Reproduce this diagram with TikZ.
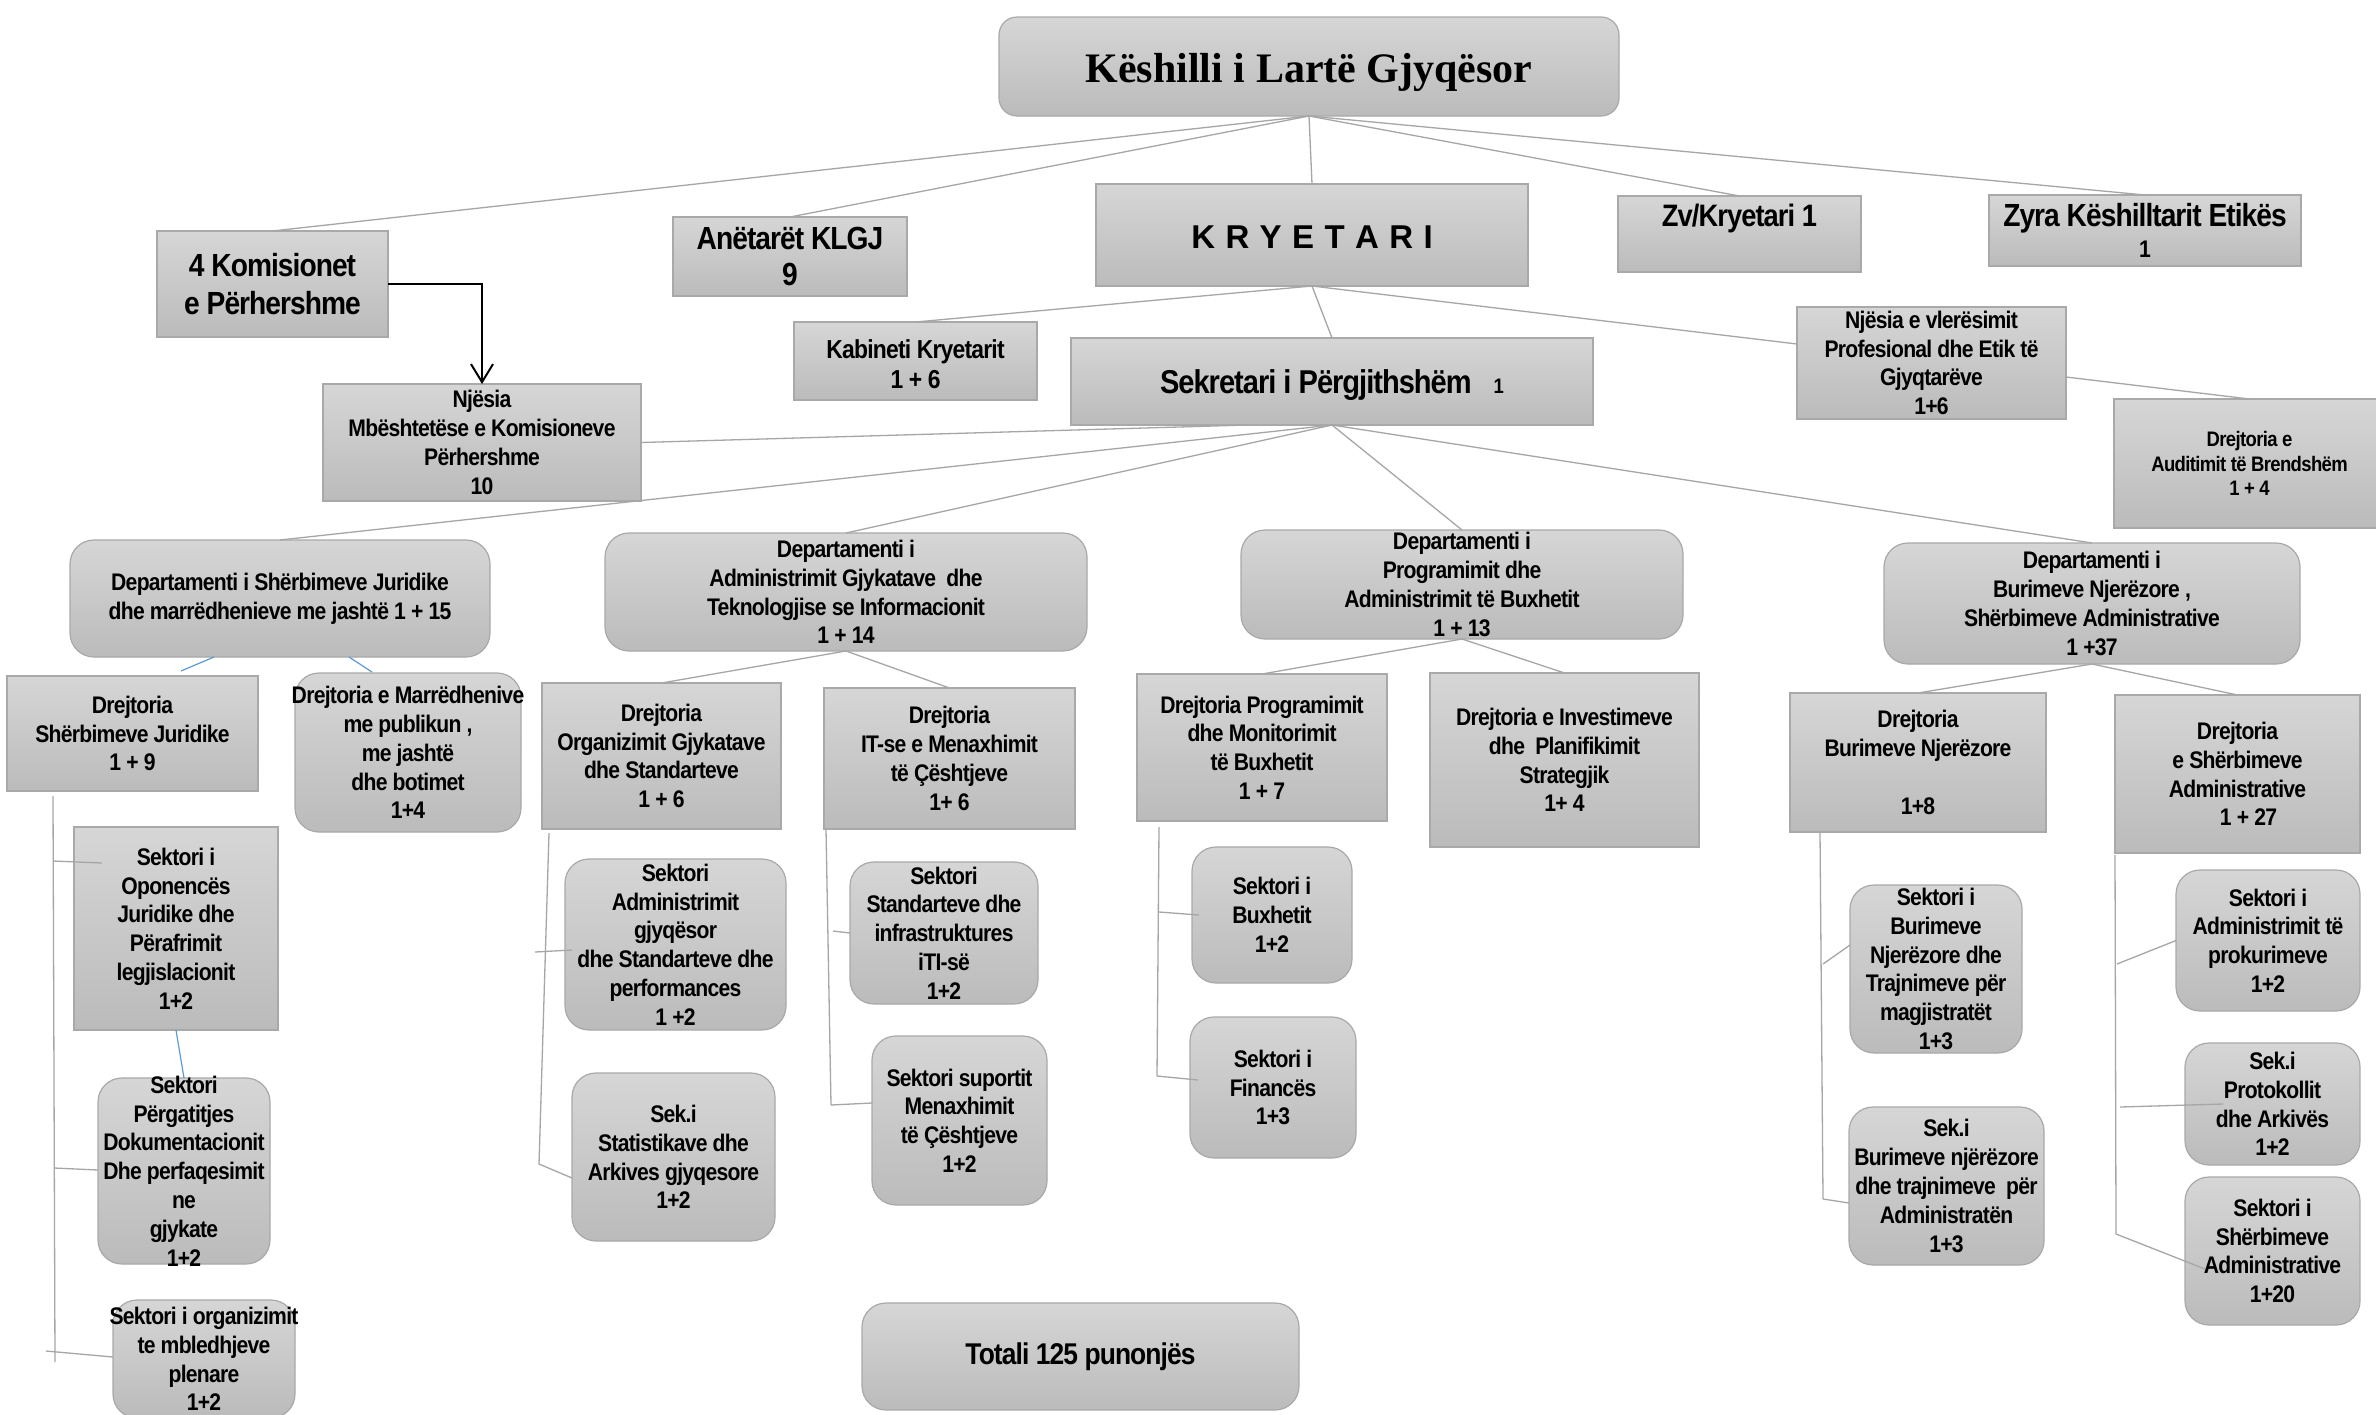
\documentclass[tikz,border=0pt]{standalone}
\usepackage{fontspec}
\newfontfamily\cf{Liberation Sans}[FakeStretch=0.88,LetterSpace=-3]
\newfontfamily\kf{Liberation Sans}
\newfontfamily\tf{Liberation Serif}
\usetikzlibrary{arrows.meta}
\definecolor{boxtop}{HTML}{D6D6D6}
\definecolor{boxbot}{HTML}{BBBBBB}
\definecolor{bordergray}{HTML}{A9A9A9}
\definecolor{linegray}{HTML}{A6A6A6}
\definecolor{lineblue}{HTML}{5B9BD5}
% #1 box style, #2 text style, #3 name, #4 x1, #5 y1, #6 x2, #7 y2, #8 text
\newcommand\ob[8]{%
  \node[#1, minimum width={(#6-#4)*0.5pt}, minimum height={(#7-#5)*0.5pt}] (#3) at ({(#4+#6)/2},{(#5+#7)/2}) {};
  \node[#2] (#3-txt) at (#3.center) {#8};}
\newcommand\kg{\hspace{5.2pt}}
\begin{document}
\begin{tikzpicture}[x=0.5pt,y=-0.5pt,
  box/.style={draw=bordergray, line width=0.6pt, top color=boxtop, bottom color=boxbot, inner sep=0pt, outer sep=0pt},
  rbox/.style={box, rounded corners=12pt},
  tbox/.style={box, rounded corners=9pt},
  t/.style={align=center, inner sep=0pt, font=\cf\bfseries\fontsize{12pt}{14.4pt}\selectfont},
  tkom/.style={t, font=\cf\bfseries\fontsize{16pt}{19pt}\selectfont},
  tan/.style={t, font=\cf\bfseries\fontsize{16pt}{18.3pt}\selectfont},
  tzv/.style={t, yshift=8pt, font=\cf\bfseries\fontsize{15.5pt}{18pt}\selectfont},
  tzy/.style={t, font=\cf\bfseries\fontsize{16pt}{15.5pt}\selectfont},
  tkab/.style={t, yshift=-1.5pt, font=\cf\bfseries\fontsize{13pt}{15pt}\selectfont},
  tsek/.style={t, yshift=-2pt, font=\cf\bfseries\fontsize{16.5pt}{19pt}\selectfont},
  taud/.style={t, font=\cf\bfseries\fontsize{10.5pt}{12.4pt}\selectfont},
  ttot/.style={t, font=\cf\bfseries\fontsize{15pt}{18pt}\selectfont},
  ttitle/.style={t, yshift=-3pt, font=\tf\bfseries\fontsize{21pt}{25pt}\selectfont},
  tkry/.style={t, yshift=-1pt, font=\kf\bfseries\fontsize{16.5pt}{19pt}\selectfont},
  ln/.style={draw=linegray, line width=0.65pt},
  bl/.style={draw=lineblue, line width=0.6pt},
  arr/.style={draw=black, line width=1pt, -{Straight Barb[length=9pt,width=11pt]}}
]
\path[use as bounding box, fill=white] (0,0) rectangle (2376,1414);

% ---- top level
\ob{tbox}{ttitle}{kl}{999}{17}{1619}{116}{Këshilli i Lartë Gjyqësor}
\ob{box}{tkry}{kry}{1096}{184}{1528}{286}{K\kg R\kg Y\kg E\kg T\kg A\kg R\kg I}
\ob{box}{tkom}{kom}{157}{231}{388}{337}{4 Komisionet\\e Përhershme}
\ob{box}{tan}{anet}{673}{217}{907}{296}{Anëtarët KLGJ\\9}
\ob{box}{tkab}{kab}{794}{322}{1037}{400}{Kabineti Kryetarit\\1 + 6}
\ob{box}{t}{njm}{323}{384}{641}{501}{Njësia\\Mbështetëse e Komisioneve\\Përhershme\\10}
\ob{box}{tsek}{sek}{1071}{338}{1593}{425}{Sekretari i Përgjithshëm\hspace{11pt}{\fontsize{10.5pt}{12pt}\selectfont 1}}
\ob{box}{tzv}{zv}{1618}{196}{1861}{272}{Zv/Kryetari 1}
\ob{box}{tzy}{zyra}{1989}{195}{2301}{266}{Zyra Këshilltarit Etikës\\{\fontsize{12pt}{14pt}\selectfont 1}}
\ob{box}{t}{vle}{1797}{307}{2066}{419}{Njësia e vlerësimit\\Profesional dhe Etik të\\Gjyqtarëve\\1+6}
\ob{box}{taud}{aud}{2114}{399}{2385}{528}{Drejtoria e\\Auditimit të Brendshëm\\1 + 4}

% ---- departments
\ob{rbox}{t}{d1}{70}{540}{490}{657}{Departamenti i Shërbimeve Juridike\\dhe marrëdhenieve me jashtë 1 + 15}
\ob{rbox}{t}{d2}{605}{533}{1087}{651}{Departamenti i\\Administrimit Gjykatave\ \ dhe\\Teknologjise se Informacionit\\1 + 14}
\ob{rbox}{t}{d3}{1241}{530}{1683}{639}{Departamenti i\\Programimit dhe\\Administrimit të Buxhetit\\1 + 13}
\ob{rbox}{t}{d4}{1884}{543}{2300}{664}{Departamenti i\\Burimeve Njerëzore ,\\Shërbimeve Administrative\\1 +37}

% ---- directorates
\ob{box}{t}{drj}{7}{676}{258}{791}{Drejtoria\\Shërbimeve Juridike\\1 + 9}
\ob{rbox}{t}{drm}{295}{673}{521}{832}{Drejtoria e Marrëdhenive\\me publikun ,\\me jashtë\\dhe botimet\\1+4}
\ob{box}{t}{dro}{542}{683}{781}{829}{Drejtoria\\Organizimit Gjykatave\\dhe Standarteve\\1 + 6}
\ob{box}{t}{drit}{824}{688}{1075}{829}{Drejtoria\\IT-se e Menaxhimit\\të Çështjeve\\1+ 6}
\ob{box}{t}{drp}{1137}{674}{1387}{821}{Drejtoria Programimit\\dhe Monitorimit\\të Buxhetit\\1 + 7}
\ob{box}{t}{dri}{1430}{673}{1699}{847}{Drejtoria e Investimeve\\dhe\ \ Planifikimit\\Strategjik\\1+ 4}
\ob{box}{t}{drb}{1790}{693}{2046}{832}{Drejtoria\\Burimeve Njerëzore\\[14.4pt]1+8}
\ob{box}{t}{drs}{2115}{695}{2360}{853}{Drejtoria\\e Shërbimeve\\Administrative\\\hspace*{11pt}1 + 27}

% ---- sectors
\ob{box}{t}{opo}{74}{827}{278}{1030}{Sektori i\\Oponencës\\Juridike dhe\\Përafrimit\\legjislacionit\\1+2}
\ob{rbox}{t}{prg}{98}{1078}{270}{1264}{Sektori\\Përgatitjes\\Dokumentacionit\\Dhe perfaqesimit\\ne\\gjykate\\1+2}
\ob{rbox}{t}{org}{113}{1300}{295}{1418}{Sektori i organizimit\\te mbledhjeve\\plenare\\1+2}
\ob{rbox}{t}{adm}{565}{859}{786}{1030}{Sektori\\Administrimit\\gjyqësor\\dhe Standarteve dhe\\performances\\1 +2}
\ob{rbox}{t}{sta}{572}{1073}{775}{1241}{Sek.i\\Statistikave dhe\\Arkives gjyqesore\\1+2}
\ob{rbox}{t}{std}{850}{862}{1038}{1004}{Sektori\\Standarteve dhe\\infrastruktures\\iTI-së\\1+2}
\ob{rbox}{t}{sup}{872}{1036}{1047}{1205}{Sektori suportit\\Menaxhimit\\të Çështjeve\\1+2}
\ob{rbox}{ttot}{tot}{862}{1303}{1299}{1410}{Totali 125 punonjës}
\ob{rbox}{t}{bux}{1192}{847}{1352}{983}{Sektori i\\Buxhetit\\1+2}
\ob{rbox}{t}{fin}{1190}{1017}{1356}{1158}{Sektori i\\Financës\\1+3}
\ob{rbox}{t}{sbn}{1850}{885}{2022}{1053}{Sektori i\\Burimeve\\Njerëzore dhe\\Trajnimeve për\\magjistratët\\1+3}
\ob{rbox}{t}{sba}{1849}{1107}{2044}{1265}{Sek.i\\Burimeve njërëzore\\dhe trajnimeve\ \ për\\Administratën\\1+3}
\ob{rbox}{t}{pro}{2176}{870}{2360}{1011}{Sektori i\\Administrimit të\\prokurimeve\\1+2}
\ob{rbox}{t}{pto}{2185}{1043}{2360}{1165}{Sek.i\\Protokollit\\dhe Arkivës\\1+2}
\ob{rbox}{t}{ssa}{2185}{1177}{2360}{1325}{Sektori i\\Shërbimeve\\Administrative\\1+20}

% ---- top connectors
\draw[ln] (kl.south) -- (kom.north);
\draw[ln] (kl.south) -- (anet.north);
\draw[ln] (kl.south) -- (kry.north);
\draw[ln] (kl.south) -- (zv.north);
\draw[ln] (kl.south) -- (zyra.north);
\draw[ln] (kry.south) -- (kab.north);
\draw[ln] (kry.south) -- (sek.north);
\draw[ln] (kry.south) -- ([yshift=9.5pt]vle.west);
\draw[ln] ([yshift=-7pt]vle.east) -- (aud.north);
\draw[arr] (kom.east) -| (njm.north);
\draw[ln] ([xshift=-42pt]sek.south) -- (njm.east);
\draw[ln] (sek.south) -- (d1.north);
\draw[ln] (sek.south) -- (d2.north);
\draw[ln] (sek.south) -- (d3.north);
\draw[ln] (sek.south) -- (d4.north);

% ---- department to directorates
\draw[bl] ([xshift=-33pt]d1.south) -- ([xshift=24.25pt,yshift=2.5pt]drj.north);
\draw[bl] ([xshift=34.5pt]d1.south) -- ([xshift=-18pt,yshift=0.5pt]drm.north);
\draw[ln] (d2.south) -- (dro.north);
\draw[ln] (d2.south) -- (drit.north);
\draw[ln] (d3.south) -- (drp.north);
\draw[ln] (d3.south) -- (dri.north);
\draw[ln] (d4.south) -- (drb.north);
\draw[ln] (d4.south) -- (drs.north);

% ---- buses
\coordinate (jb0) at (53,796);   \coordinate (jbE) at (55,1362);
\coordinate (jb1) at (53,861);   \coordinate (jb2) at (54,1168);  \coordinate (jb3) at (46,1351);
\draw[ln] (jb0) -- (jbE);
\draw[ln] (jb1) -- ([xshift=14pt,yshift=32.75pt]opo.west);
\draw[ln] (jb2) -- ([yshift=0.5pt]prg.west);
\draw[ln] (jb3) -- ([yshift=1pt]org.west);
\draw[bl] (opo.south) -- (prg.north);

\coordinate (ob0) at (549,833);  \coordinate (ob1) at (539,1164); \coordinate (obA) at (535,952);
\draw[ln] (ob0) -- (ob1) -- ([yshift=-10.5pt]sta.west);
\draw[ln] (obA) -- ([xshift=3.5pt,yshift=-2.75pt]adm.west);

\coordinate (ib0) at (826,829);  \coordinate (ib1) at (831,1105); \coordinate (ibA) at (833,931);
\draw[ln] (ib0) -- (ib1);
\draw[ln] (ibA) -- (std.west);
\draw[ln] (ib1) -- ([yshift=8.75pt]sup.west);

\coordinate (pb0) at (1159,827); \coordinate (pb1) at (1157,1076); \coordinate (pbA) at (1159,912);
\draw[ln] (pb0) -- (pb1);
\draw[ln] (pbA) -- ([xshift=3.5pt]bux.west);
\draw[ln] (pb1) -- ([xshift=4pt,yshift=3.75pt]fin.west);

\coordinate (bb0) at (1820,833); \coordinate (bb1) at (1823,1199); \coordinate (bbA) at (1823,964);
\draw[ln] (bb0) -- (bb1);
\draw[ln] (bbA) -- ([yshift=12pt]sbn.west);
\draw[ln] (bb1) -- ([yshift=-8.5pt]sba.west);

\coordinate (sb0) at (2115,855); \coordinate (sb1) at (2116,1234); \coordinate (sbA) at (2117,964); \coordinate (sbB) at (2120,1107);
\draw[ln] (sb0) -- (sb1);
\draw[ln] (sbA) -- (pro.west);
\draw[ln] (sbB) -- ([xshift=19pt]pto.west);
\draw[ln] (sb1) -- ([xshift=10pt,yshift=-9pt]ssa.west);
\end{tikzpicture}
\end{document}
